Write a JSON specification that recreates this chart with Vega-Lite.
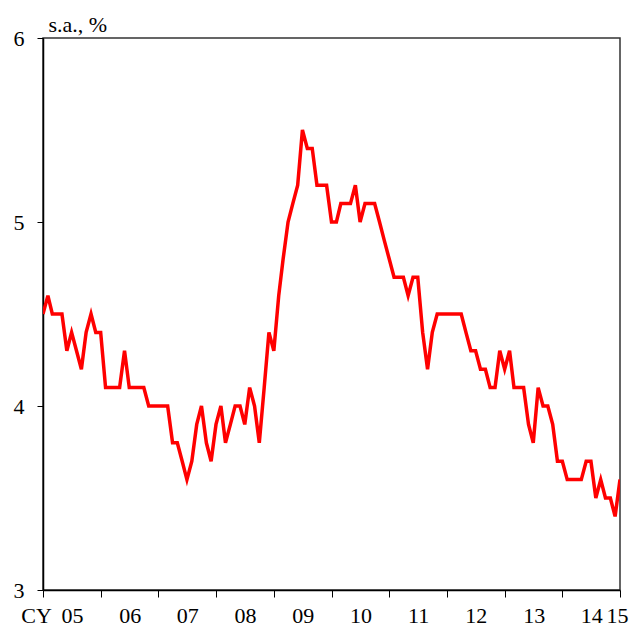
{
  "$schema": "https://vega.github.io/schema/vega-lite/v6.json",
  "width": 577,
  "height": 552,
  "autosize": "none",
  "padding": {"left": 43, "top": 38, "right": 12, "bottom": 36},
  "background": "white",
  "config": {
    "view": {"stroke": "#333", "strokeWidth": 1.5},
    "axis": {
      "labelFont": "Liberation Serif",
      "labelFontSize": 22,
      "labelColor": "#000",
      "titleFont": "Liberation Serif",
      "titleFontSize": 22,
      "titleFontWeight": "normal",
      "titleColor": "#000",
      "domainColor": "#000",
      "domainWidth": 1.5,
      "tickColor": "#000",
      "tickWidth": 1,
      "grid": false
    }
  },
  "data": {
    "values": [
      {"date": "2005-01-01", "rate": 4.5}, {"date": "2005-02-01", "rate": 4.6}, {"date": "2005-03-01", "rate": 4.5}, {"date": "2005-04-01", "rate": 4.5},
      {"date": "2005-05-01", "rate": 4.5}, {"date": "2005-06-01", "rate": 4.3}, {"date": "2005-07-01", "rate": 4.4}, {"date": "2005-08-01", "rate": 4.3},
      {"date": "2005-09-01", "rate": 4.2}, {"date": "2005-10-01", "rate": 4.4}, {"date": "2005-11-01", "rate": 4.5}, {"date": "2005-12-01", "rate": 4.4},
      {"date": "2006-01-01", "rate": 4.4}, {"date": "2006-02-01", "rate": 4.1}, {"date": "2006-03-01", "rate": 4.1}, {"date": "2006-04-01", "rate": 4.1},
      {"date": "2006-05-01", "rate": 4.1}, {"date": "2006-06-01", "rate": 4.3}, {"date": "2006-07-01", "rate": 4.1}, {"date": "2006-08-01", "rate": 4.1},
      {"date": "2006-09-01", "rate": 4.1}, {"date": "2006-10-01", "rate": 4.1}, {"date": "2006-11-01", "rate": 4.0}, {"date": "2006-12-01", "rate": 4.0},
      {"date": "2007-01-01", "rate": 4.0}, {"date": "2007-02-01", "rate": 4.0}, {"date": "2007-03-01", "rate": 4.0}, {"date": "2007-04-01", "rate": 3.8},
      {"date": "2007-05-01", "rate": 3.8}, {"date": "2007-06-01", "rate": 3.7}, {"date": "2007-07-01", "rate": 3.6}, {"date": "2007-08-01", "rate": 3.7},
      {"date": "2007-09-01", "rate": 3.9}, {"date": "2007-10-01", "rate": 4.0}, {"date": "2007-11-01", "rate": 3.8}, {"date": "2007-12-01", "rate": 3.7},
      {"date": "2008-01-01", "rate": 3.9}, {"date": "2008-02-01", "rate": 4.0}, {"date": "2008-03-01", "rate": 3.8}, {"date": "2008-04-01", "rate": 3.9},
      {"date": "2008-05-01", "rate": 4.0}, {"date": "2008-06-01", "rate": 4.0}, {"date": "2008-07-01", "rate": 3.9}, {"date": "2008-08-01", "rate": 4.1},
      {"date": "2008-09-01", "rate": 4.0}, {"date": "2008-10-01", "rate": 3.8}, {"date": "2008-11-01", "rate": 4.1}, {"date": "2008-12-01", "rate": 4.4},
      {"date": "2009-01-01", "rate": 4.3}, {"date": "2009-02-01", "rate": 4.6}, {"date": "2009-03-01", "rate": 4.8}, {"date": "2009-04-01", "rate": 5.0},
      {"date": "2009-05-01", "rate": 5.1}, {"date": "2009-06-01", "rate": 5.2}, {"date": "2009-07-01", "rate": 5.5}, {"date": "2009-08-01", "rate": 5.4},
      {"date": "2009-09-01", "rate": 5.4}, {"date": "2009-10-01", "rate": 5.2}, {"date": "2009-11-01", "rate": 5.2}, {"date": "2009-12-01", "rate": 5.2},
      {"date": "2010-01-01", "rate": 5.0}, {"date": "2010-02-01", "rate": 5.0}, {"date": "2010-03-01", "rate": 5.1}, {"date": "2010-04-01", "rate": 5.1},
      {"date": "2010-05-01", "rate": 5.1}, {"date": "2010-06-01", "rate": 5.2}, {"date": "2010-07-01", "rate": 5.0}, {"date": "2010-08-01", "rate": 5.1},
      {"date": "2010-09-01", "rate": 5.1}, {"date": "2010-10-01", "rate": 5.1}, {"date": "2010-11-01", "rate": 5.0}, {"date": "2010-12-01", "rate": 4.9},
      {"date": "2011-01-01", "rate": 4.8}, {"date": "2011-02-01", "rate": 4.7}, {"date": "2011-03-01", "rate": 4.7}, {"date": "2011-04-01", "rate": 4.7},
      {"date": "2011-05-01", "rate": 4.6}, {"date": "2011-06-01", "rate": 4.7}, {"date": "2011-07-01", "rate": 4.7}, {"date": "2011-08-01", "rate": 4.4},
      {"date": "2011-09-01", "rate": 4.2}, {"date": "2011-10-01", "rate": 4.4}, {"date": "2011-11-01", "rate": 4.5}, {"date": "2011-12-01", "rate": 4.5},
      {"date": "2012-01-01", "rate": 4.5}, {"date": "2012-02-01", "rate": 4.5}, {"date": "2012-03-01", "rate": 4.5}, {"date": "2012-04-01", "rate": 4.5},
      {"date": "2012-05-01", "rate": 4.4}, {"date": "2012-06-01", "rate": 4.3}, {"date": "2012-07-01", "rate": 4.3}, {"date": "2012-08-01", "rate": 4.2},
      {"date": "2012-09-01", "rate": 4.2}, {"date": "2012-10-01", "rate": 4.1}, {"date": "2012-11-01", "rate": 4.1}, {"date": "2012-12-01", "rate": 4.3},
      {"date": "2013-01-01", "rate": 4.2}, {"date": "2013-02-01", "rate": 4.3}, {"date": "2013-03-01", "rate": 4.1}, {"date": "2013-04-01", "rate": 4.1},
      {"date": "2013-05-01", "rate": 4.1}, {"date": "2013-06-01", "rate": 3.9}, {"date": "2013-07-01", "rate": 3.8}, {"date": "2013-08-01", "rate": 4.1},
      {"date": "2013-09-01", "rate": 4.0}, {"date": "2013-10-01", "rate": 4.0}, {"date": "2013-11-01", "rate": 3.9}, {"date": "2013-12-01", "rate": 3.7},
      {"date": "2014-01-01", "rate": 3.7}, {"date": "2014-02-01", "rate": 3.6}, {"date": "2014-03-01", "rate": 3.6}, {"date": "2014-04-01", "rate": 3.6},
      {"date": "2014-05-01", "rate": 3.6}, {"date": "2014-06-01", "rate": 3.7}, {"date": "2014-07-01", "rate": 3.7}, {"date": "2014-08-01", "rate": 3.5},
      {"date": "2014-09-01", "rate": 3.6}, {"date": "2014-10-01", "rate": 3.5}, {"date": "2014-11-01", "rate": 3.5}, {"date": "2014-12-01", "rate": 3.4},
      {"date": "2015-01-01", "rate": 3.6}
    ]
  },
  "mark": {"type": "line", "color": "#FF0000", "strokeWidth": 3.5, "strokeJoin": "miter", "clip": true},
  "encoding": {
    "x": {
      "field": "date",
      "type": "temporal",
      "scale": {"type": "utc", "domain": [{"year": 2005, "month": 1, "date": 1, "utc": true}, {"year": 2015, "month": 1, "date": 1, "utc": true}], "nice": false},
      "axis": {
        "values": [
          {"year": 2005, "month": 1, "date": 1, "utc": true}, {"year": 2006, "month": 1, "date": 1, "utc": true},
          {"year": 2007, "month": 1, "date": 1, "utc": true}, {"year": 2008, "month": 1, "date": 1, "utc": true},
          {"year": 2009, "month": 1, "date": 1, "utc": true}, {"year": 2010, "month": 1, "date": 1, "utc": true},
          {"year": 2011, "month": 1, "date": 1, "utc": true}, {"year": 2012, "month": 1, "date": 1, "utc": true},
          {"year": 2013, "month": 1, "date": 1, "utc": true}, {"year": 2014, "month": 1, "date": 1, "utc": true},
          {"year": 2015, "month": 1, "date": 1, "utc": true}
        ],
        "labelExpr": "utcFormat(datum.value, '%y')",
        "labelOffset": {"condition": {"test": "utcyear(datum.value) == 2015", "value": -3}, "value": 29},
        "labelOverlap": false,
        "labelBound": false,
        "labelFlush": false,
        "labelAlign": "center",
        "labelBaseline": "alphabetic",
        "tickSize": 7,
        "labelPadding": 25,
        "title": "CY",
        "titleX": -7,
        "titleY": 32,
        "titleAlign": "center",
        "titleBaseline": "alphabetic",
        "titleAnchor": null
      }
    },
    "y": {
      "field": "rate",
      "type": "quantitative",
      "scale": {"domain": [3, 6], "nice": false, "zero": false},
      "axis": {
        "values": [3, 4, 5, 6],
        "tickSize": 6,
        "labelPadding": 13,
        "labelBaseline": "middle",
        "title": "s.a., %",
        "titleAngle": 0,
        "titleX": 5,
        "titleY": -7,
        "titleAlign": "left",
        "titleBaseline": "alphabetic",
        "titleAnchor": null
      }
    }
  }
}
